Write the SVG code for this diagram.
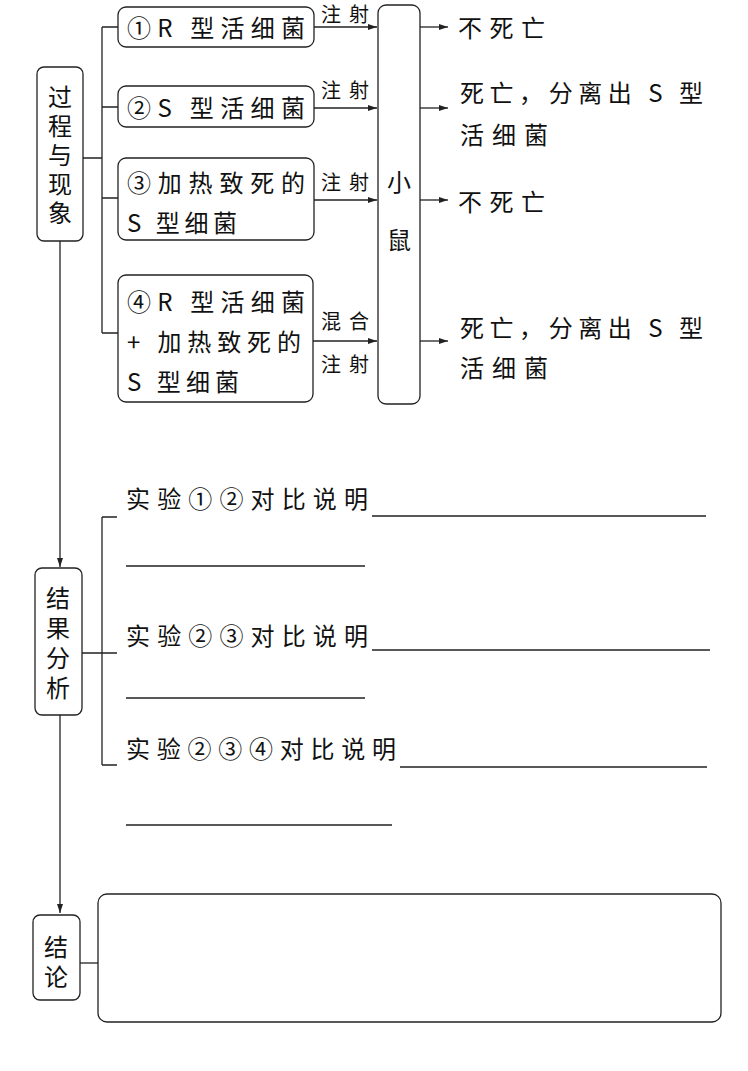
<svg xmlns="http://www.w3.org/2000/svg" width="748" height="1071" viewBox="0 0 748 1071">
<style>
.box{fill:#fff;stroke:#222;stroke-width:1.3}
.ln{fill:none;stroke:#222;stroke-width:1.3}
.t{font-family:"Noto Sans CJK SC","Noto Sans",sans-serif;font-size:24px;fill:#111}
.s{font-family:"Noto Sans CJK SC","Noto Sans",sans-serif;font-size:20px;fill:#111}
.v{font-family:"Noto Sans CJK SC","Noto Sans",sans-serif;font-size:24px;fill:#111;writing-mode:vertical-rl}
</style>
<defs>
<marker id="ah" markerWidth="10" markerHeight="8" refX="9" refY="4" orient="auto" markerUnits="userSpaceOnUse">
<path d="M0,1 L9,4 L0,7 Z" fill="#222"/>
</marker>
</defs>
<rect width="748" height="1071" fill="#fff"/>
<g id="connectors">
<path class="ln" d="M83,158 H102 M102,27 V333 M102,27 H118 M102,107 H118 M102,198 H118 M102,333 H118"/>
<path class="ln" d="M314,27 H377" marker-end="url(#ah)"/>
<path class="ln" d="M314,108 H377" marker-end="url(#ah)"/>
<path class="ln" d="M314,200 H377" marker-end="url(#ah)"/>
<path class="ln" d="M313,341 H377" marker-end="url(#ah)"/>
<path class="ln" d="M420,27 H448" marker-end="url(#ah)"/>
<path class="ln" d="M420,108 H448" marker-end="url(#ah)"/>
<path class="ln" d="M420,200 H448" marker-end="url(#ah)"/>
<path class="ln" d="M420,341 H448" marker-end="url(#ah)"/>
<path class="ln" d="M60,241 V567" marker-end="url(#ah)"/>
<path class="ln" d="M60,715 V913" marker-end="url(#ah)"/>
<path class="ln" d="M82,653 H102 M102,517 V765 M102,517 H117 M102,653 H117 M102,765 H117"/>
<path class="ln" d="M80,963 H98"/>
<text class="s" x="321" y="22" font-size="19" textLength="48" lengthAdjust="spacing">注射</text>
<text class="s" x="321" y="98" textLength="48" lengthAdjust="spacing">注射</text>
<text class="s" x="321" y="190" textLength="48" lengthAdjust="spacing">注射</text>
<text class="s" x="321" y="329" textLength="48" lengthAdjust="spacing">混合</text>
<text class="s" x="321" y="372" textLength="48" lengthAdjust="spacing">注射</text>
</g>
<g id="process">
<rect class="box" x="37" y="67" width="46" height="174" rx="7"/>
<text class="v" x="60" y="85" letter-spacing="5">过程与现象</text>
</g>
<g id="exp1">
<rect class="box" x="118" y="7" width="196" height="40" rx="8"/>
<text class="t" x="127" y="37" textLength="178" lengthAdjust="spacing">①R 型活细菌</text>
</g>
<g id="exp2">
<rect class="box" x="118" y="86" width="196" height="41" rx="8"/>
<text class="t" x="127" y="117" textLength="178" lengthAdjust="spacing">②S 型活细菌</text>
</g>
<g id="exp3">
<rect class="box" x="118" y="158" width="196" height="82" rx="8"/>
<text class="t" x="127" y="192" textLength="178" lengthAdjust="spacing">③加热致死的</text>
<text class="t" x="127" y="232" textLength="110" lengthAdjust="spacing">S 型细菌</text>
</g>
<g id="exp4">
<rect class="box" x="118" y="275" width="195" height="127" rx="8"/>
<text class="t" x="127" y="311" textLength="178" lengthAdjust="spacing">④R 型活细菌</text>
<text class="t" x="127" y="351" textLength="174" lengthAdjust="spacing">+ 加热致死的</text>
<text class="t" x="127" y="391" textLength="112" lengthAdjust="spacing">S 型细菌</text>
</g>
<g id="mouse">
<rect class="box" x="378" y="5" width="42" height="399" rx="8"/>
<text class="v" x="399" y="170" letter-spacing="34">小鼠</text>
</g>
<g id="results">
<text class="t" x="458" y="37" textLength="87" lengthAdjust="spacing">不死亡</text>
<text class="t" x="460" y="102" textLength="243" lengthAdjust="spacing">死亡，分离出 S 型</text>
<text class="t" x="460" y="144" textLength="88" lengthAdjust="spacing">活细菌</text>
<text class="t" x="458" y="211" textLength="87" lengthAdjust="spacing">不死亡</text>
<text class="t" x="460" y="337" textLength="243" lengthAdjust="spacing">死亡，分离出 S 型</text>
<text class="t" x="460" y="377" textLength="88" lengthAdjust="spacing">活细菌</text>
</g>
<g id="analysis">
<rect class="box" x="35" y="568" width="47" height="147" rx="7"/>
<text class="v" x="58" y="586" letter-spacing="6">结果分析</text>
</g>
<g id="analysis-lines">
<text class="t" x="126" y="508" textLength="242" lengthAdjust="spacing">实验①②对比说明</text>
<path class="ln" d="M372,516 H706 M126,566 H365"/>
<text class="t" x="126" y="645" textLength="242" lengthAdjust="spacing">实验②③对比说明</text>
<path class="ln" d="M372,650 H710 M126,698 H365"/>
<text class="t" x="126" y="758" textLength="270" lengthAdjust="spacing">实验②③④对比说明</text>
<path class="ln" d="M400,767 H707 M126,825 H392"/>
</g>
<g id="conclusion">
<rect class="box" x="33" y="915" width="47" height="85" rx="7"/>
<text class="v" x="56" y="935" letter-spacing="6">结论</text>
</g>
<g id="conclusion-box">
<rect class="box" x="98" y="894" width="623" height="128" rx="9"/>
</g>
</svg>
